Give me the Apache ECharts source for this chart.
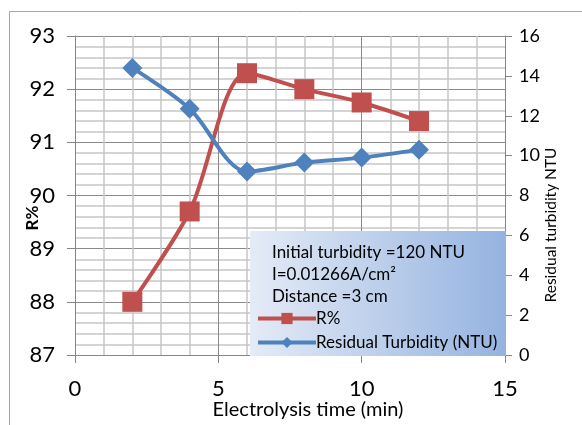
<!DOCTYPE html>
<html>
<head>
<meta charset="utf-8">
<script src="https://cdn.jsdelivr.net/npm/echarts@6/dist/echarts.min.js"></script>
<style>
html, body { margin: 0; padding: 0; background: #fff; }
#chart-container { width: 582px; height: 425px; }
</style>
</head>
<body>
<div id="chart-container"></div>
<script>
var dom = document.getElementById('chart-container');
var myChart = echarts.init(dom, null, { renderer: 'canvas' });

// electrolysis time (min)
var times = [2, 4, 6, 8, 10, 12];
// removal efficiency R%
var removal = [88.0, 89.7, 92.3, 92.0, 91.75, 91.4];
// residual turbidity (NTU)
var residual = [14.4, 12.35, 9.2, 9.65, 9.9, 10.3];
var notes = ['Initial turbidity =120 NTU', 'I=0.01266A/cm\u00B2', 'Distance =3 cm'];

var font = 'Lato, "Open Sans", sans-serif';

function pairs(ys) {
    return times.map(function (t, i) { return [t, ys[i]]; });
}

var option = {
    animation: false,
    grid: { left: 75, right: 77, top: 36, bottom: 70 },
    xAxis: {
        type: 'value',
        min: 0, max: 15, interval: 5,
        axisLine: { lineStyle: { color: '#868686' } },
        axisTick: { show: true, length: 8, lineStyle: { color: '#868686' } },
        axisLabel: { color: '#000', fontSize: 22, fontFamily: font, margin: 23 },
        splitLine: { show: true, lineStyle: { color: '#8a8a8a', width: 1 } },
        minorTick: { show: false, splitNumber: 5 },
        minorSplitLine: { show: true, lineStyle: { color: '#c6c6c6', width: 1.5 } }
    },
    yAxis: [
        {
            type: 'value',
            min: 87, max: 93, interval: 1,
            axisLine: { show: true, lineStyle: { color: '#868686' } },
            axisTick: { show: true, length: 8, lineStyle: { color: '#868686' } },
            axisLabel: { color: '#000', fontSize: 22, fontFamily: font, margin: 20 },
            splitLine: { show: true, lineStyle: { color: '#8a8a8a', width: 1 } },
            minorTick: { show: false, splitNumber: 5 },
            minorSplitLine: { show: true, lineStyle: { color: '#c6c6c6', width: 1.5 } }
        },
        {
            type: 'value',
            min: 0, max: 16, interval: 2,
            position: 'right',
            axisLine: { show: true, lineStyle: { color: '#868686' } },
            axisTick: { show: true, length: 7, lineStyle: { color: '#868686' } },
            axisLabel: { color: '#000', fontSize: 18, fontFamily: font, margin: 14 },
            splitLine: { show: false }
        }
    ],
    legend: {
        orient: 'vertical',
        left: 251, top: 305,
        z: 20,
        itemWidth: 58, itemHeight: 14,
        itemGap: 7,
        lineStyle: { width: 4 },
        textStyle: { color: '#000', fontSize: 17, fontFamily: font, padding: [0, 0, 0, -5] },
        data: ['R%', 'Residual Turbidity (NTU)']
    },
    graphic: [
        {
            type: 'rect', left: 7, top: 9, z: -10,
            shape: { width: 600, height: 440 },
            style: { fill: 'none', stroke: '#a6a6a6', lineWidth: 1 }
        },
        {
            type: 'rect', left: 250, top: 231, z: 5,
            shape: { width: 256, height: 125 },
            style: {
                fill: new echarts.graphic.LinearGradient(0, 0, 1, 0, [
                    { offset: 0, color: '#e4ebf6' },
                    { offset: 1, color: '#95b3e0' }
                ])
            }
        },
        {
            type: 'text', left: 272, top: 244, z: 6,
            style: { text: notes[0], fill: '#000', fontSize: 17, fontFamily: font }
        },
        {
            type: 'text', left: 272, top: 266, z: 6,
            style: { text: notes[1], fill: '#000', fontSize: 17, fontFamily: font }
        },
        {
            type: 'text', left: 272, top: 288, z: 6,
            style: { text: notes[2], fill: '#000', fontSize: 17, fontFamily: font }
        },
        {
            type: 'text', x: 33, y: 218, rotation: Math.PI / 2, z: 6,
            style: { text: 'R%', fill: '#000', fontSize: 17, fontWeight: 'bold', fontFamily: font, align: 'center', verticalAlign: 'middle' }
        },
        {
            type: 'text', x: 551, y: 225, rotation: Math.PI / 2, z: 6,
            style: { text: 'Residual turbidity NTU', fill: '#000', fontSize: 15.5, fontFamily: font, align: 'center', verticalAlign: 'middle' }
        },
        {
            type: 'text', x: 308, y: 410, z: 6,
            style: { text: 'Electrolysis time (min)', fill: '#000', fontSize: 20, fontFamily: font, align: 'center', verticalAlign: 'middle' }
        }
    ],
    series: [
        {
            name: 'R%',
            type: 'line',
            yAxisIndex: 0,
            smooth: 0.3,
            data: pairs(removal),
            symbol: 'rect',
            symbolSize: 20,
            lineStyle: { color: '#c0504d', width: 4 },
            itemStyle: { color: '#c0504d' },
            z: 3
        },
        {
            name: 'Residual Turbidity (NTU)',
            type: 'line',
            yAxisIndex: 1,
            smooth: 0.3,
            data: pairs(residual),
            symbol: 'diamond',
            symbolSize: 20,
            lineStyle: { color: '#4f81bd', width: 4 },
            itemStyle: { color: '#4f81bd' },
            z: 3
        }
    ]
};

myChart.setOption(option);
window.addEventListener('resize', myChart.resize);
</script>
</body>
</html>
